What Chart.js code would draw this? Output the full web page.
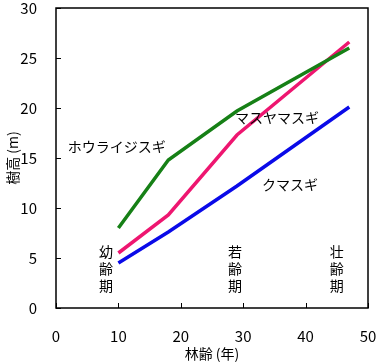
<!DOCTYPE html>
<html>
<head>
<meta charset="utf-8">
<script src="https://cdn.jsdelivr.net/npm/chart.js@4"></script>
<style>
  html, body { margin: 0; padding: 0; background: #fff; }
  #wrap { width: 377px; height: 364px; }
</style>
</head>
<body>
<div id="wrap"><canvas id="heightChart" width="377" height="364"></canvas></div>
<script>
// stand age (years) and tree height (m)
const ages = [10, 18, 29, 47];
const houraiHeights = [8.0, 14.8, 19.7, 26.0];
const masuyamaHeights = [5.5, 9.3, 17.3, 26.6];
const kumaHeights = [4.5, 7.6, 12.2, 20.1];
const xTicks = [0, 10, 20, 30, 40, 50];
const yTicks = [0, 5, 10, 15, 20, 25, 30];

// text labels placed in data units
const seriesNotes = [
  { text: 'ホウライジスギ', x: 1.9, y: 16.1 },
  { text: 'マスヤマスギ', x: 28.7, y: 19.0 },
  { text: 'クマスギ', x: 33.0, y: 12.3 }
];
const stageNotes = [
  { text: '幼齢期', x: 8.0, y: 5.65 },
  { text: '若齢期', x: 28.7, y: 5.65 },
  { text: '壮齢期', x: 45.0, y: 5.65 }
];

const FONT = '"Noto Sans CJK JP", "Noto Sans", sans-serif';

function pts(ys) {
  return ages.map((a, i) => ({ x: a, y: ys[i] }));
}

function noPad(s) {
  s.paddingTop = 0; s.paddingBottom = 0; s.paddingLeft = 0; s.paddingRight = 0;
}

// box frame, inward ticks and the text labels
const framePlugin = {
  id: 'frame',
  afterDraw(chart) {
    const ctx = chart.ctx;
    const a = chart.chartArea;
    const xs = chart.scales.x, ys = chart.scales.y;
    ctx.save();
    ctx.strokeStyle = '#000';
    ctx.lineWidth = 1.5;
    ctx.strokeRect(a.left, a.top, a.right - a.left, a.bottom - a.top);
    ctx.beginPath();
    xTicks.forEach(v => {
      const px = Math.round(xs.getPixelForValue(v)) + 0.5;
      ctx.moveTo(px, a.bottom);
      ctx.lineTo(px, a.bottom - 5);
    });
    yTicks.forEach(v => {
      const py = Math.round(ys.getPixelForValue(v)) + 0.5;
      ctx.moveTo(a.left, py);
      ctx.lineTo(a.left + 5, py);
    });
    ctx.lineWidth = 1;
    ctx.stroke();

    ctx.fillStyle = '#000';
    ctx.font = '14px ' + FONT;
    ctx.textBaseline = 'middle';
    ctx.textAlign = 'left';
    seriesNotes.forEach(n => {
      ctx.fillText(n.text, xs.getPixelForValue(n.x), ys.getPixelForValue(n.y));
    });
    ctx.textAlign = 'center';
    stageNotes.forEach(n => {
      const px = xs.getPixelForValue(n.x);
      const py = ys.getPixelForValue(n.y);
      n.text.split('').forEach((ch, i) => ctx.fillText(ch, px, py + i * 17));
    });
    ctx.restore();
  }
};

new Chart(document.getElementById('heightChart').getContext('2d'), {
  type: 'line',
  data: {
    datasets: [
      { label: 'ホウライジスギ', data: pts(houraiHeights), borderColor: '#168016' },
      { label: 'マスヤマスギ', data: pts(masuyamaHeights), borderColor: '#ee1670' },
      { label: 'クマスギ', data: pts(kumaHeights), borderColor: '#0a0ae8' }
    ]
  },
  options: {
    responsive: false,
    animation: false,
    events: [],
    layout: { padding: { left: 0, top: 8, right: 9, bottom: 0 } },
    elements: {
      line: { borderWidth: 3.5, tension: 0, fill: false },
      point: { radius: 0 }
    },
    plugins: { legend: { display: false }, tooltip: { enabled: false } },
    scales: {
      x: {
        type: 'linear',
        min: 0,
        max: 50,
        afterBuildTicks: s => { s.ticks = xTicks.map(v => ({ value: v })); },
        afterFit: s => { s.height = 56; noPad(s); },
        grid: { display: false },
        border: { display: false },
        ticks: { color: '#000', font: { family: FONT, size: 15 }, padding: 11, maxRotation: 0 },
        title: { display: true, text: '林齢 (年)', color: '#000', font: { family: FONT, size: 14 }, padding: { top: 0, bottom: 2 } }
      },
      y: {
        min: 0,
        max: 30,
        afterBuildTicks: s => { s.ticks = yTicks.map(v => ({ value: v })); },
        afterFit: s => { s.width = 56; noPad(s); },
        grid: { display: false },
        border: { display: false },
        ticks: { color: '#000', font: { family: FONT, size: 15 }, padding: 11 },
        title: { display: true, text: '樹高 (m)', color: '#000', font: { family: FONT, size: 14 }, padding: { top: 4, bottom: 0 } }
      }
    }
  },
  plugins: [framePlugin]
});
</script>
</body>
</html>
